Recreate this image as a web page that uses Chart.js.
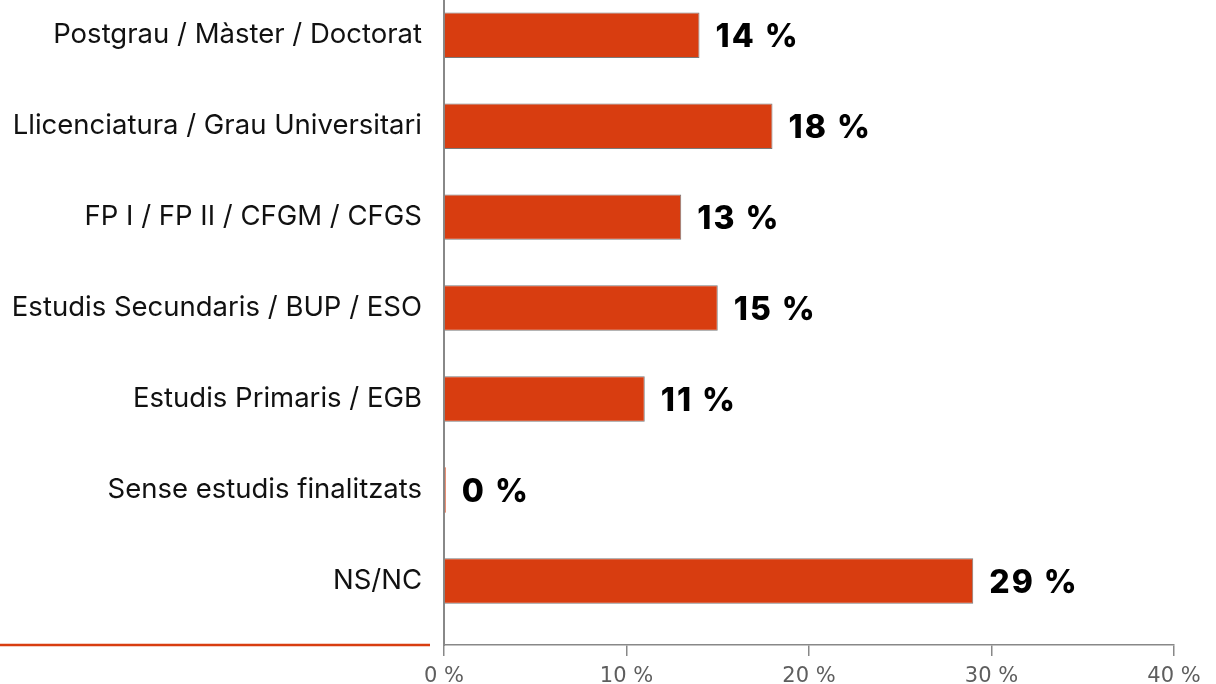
<!DOCTYPE html>
<html>
<head>
<meta charset="utf-8">
<script src="https://cdn.jsdelivr.net/npm/chart.js@4"></script>
<style>
  html, body { margin: 0; padding: 0; background: #fff; }
  #wrap { width: 1216px; height: 684px; position: relative; }
</style>
</head>
<body>
<div id="wrap"><canvas id="chart"></canvas></div>
<script>
// dades del gràfic
const categories = [
    'Postgrau / Màster / Doctorat',
    'Llicenciatura / Grau Universitari',
    'FP I / FP II / CFGM / CFGS',
    'Estudis Secundaris / BUP / ESO',
    'Estudis Primaris / EGB',
    'Sense estudis finalitzats',
    'NS/NC'
];
const percentages = [14, 18, 13, 15, 11, 0.1, 29];
const xTicks = [0, 10, 20, 30, 40];

const orange = '#d83d10';

// etiquetes de valor a la dreta de cada barra
const valueLabels = {
    id: 'valueLabels',
    afterDatasetsDraw(chart) {
        const ctx = chart.ctx;
        const meta = chart.getDatasetMeta(0);
        ctx.save();
        ctx.font = '800 32px Inter';
        ctx.letterSpacing = '2px';
        ctx.fillStyle = '#000';
        ctx.textBaseline = 'middle';
        ctx.textAlign = 'left';
        meta.data.forEach((bar, i) => {
            ctx.fillText(Math.round(percentages[i]) + ' %', bar.x + 16, bar.y + 2);
        });
        ctx.restore();
    }
};

// línia taronja a baix a l'esquerra
const accentLine = {
    id: 'accentLine',
    afterDraw(chart) {
        const ctx = chart.ctx;
        const y = chart.chartArea.bottom;
        ctx.save();
        ctx.strokeStyle = orange;
        ctx.lineWidth = 2.5;
        ctx.beginPath();
        ctx.moveTo(0, y);
        ctx.lineTo(chart.chartArea.left - 14, y);
        ctx.stroke();
        ctx.restore();
    }
};

const ctx = document.getElementById('chart').getContext('2d');
const chart = new Chart(ctx, {
    type: 'bar',
    data: {
        datasets: [{
            data: percentages.map((v, i) => ({ x: v, y: i })),
            backgroundColor: orange,
            // la barra del 0 % es veu només com una línia taronja
            borderColor: c => (c.raw && c.raw.x < 1) ? orange : '#7a7a7a',
            borderWidth: 1,
            barPercentage: 0.5,
            categoryPercentage: 1
        }]
    },
    options: {
        indexAxis: 'y',
        responsive: true,
        maintainAspectRatio: false,
        animation: false,
        layout: { padding: { left: 0, right: 42, top: 0, bottom: 0 } },
        plugins: {
            legend: { display: false },
            tooltip: { enabled: false }
        },
        scales: {
            x: {
                type: 'linear',
                min: 0,
                max: 40,
                afterFit(scale) { scale.height = 39; },
                afterBuildTicks(scale) { scale.ticks = xTicks.map(v => ({ value: v })); },
                grid: { drawOnChartArea: false, drawTicks: true, tickLength: 11, color: '#888', lineWidth: 1.5 },
                border: { display: true, color: '#888', width: 1.5 },
                ticks: {
                    padding: 8,
                    color: '#5e5e5e',
                    font: { family: 'DejaVu Sans', size: 21 },
                    callback: v => v + ' %'
                }
            },
            y: {
                type: 'linear',
                reverse: true,
                offset: false,
                min: -0.385,
                max: 6.703,
                afterFit(scale) { scale.width = 444; },
                afterBuildTicks(scale) { scale.ticks = categories.map((c, i) => ({ value: i })); },
                grid: { offset: false, drawOnChartArea: false, drawTicks: true, tickLength: 22, color: 'rgba(0,0,0,0)' },
                border: { display: true, color: '#888', width: 2 },
                ticks: {
                    padding: 0,
                    color: '#111',
                    font: { family: 'Inter', size: 27.5, lineHeight: 0.01 },
                    callback: v => categories[v] || ''
                }
            }
        }
    },
    plugins: [valueLabels, accentLine]
});
</script>
</body>
</html>
